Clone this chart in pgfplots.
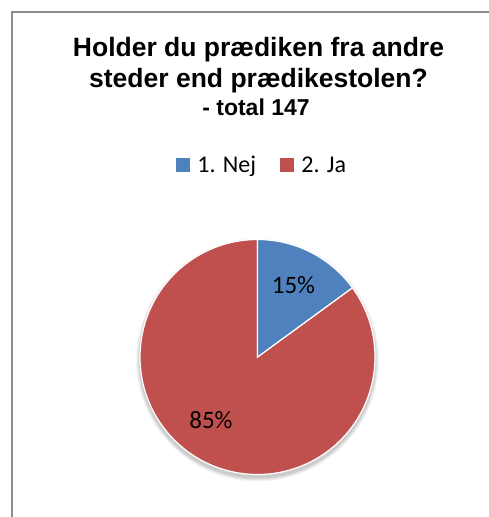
\documentclass[border=0pt]{standalone}
\usepackage{fontspec}
\setmainfont{Carlito}
\newfontfamily\titlefont{Liberation Sans}
\usepackage{pgfplots}
\pgfplotsset{compat=1.18}
\definecolor{nejblue}{HTML}{4F81BD}
\definecolor{jared}{HTML}{C0504D}
\definecolor{framegray}{HTML}{8C8C8C}

% answers: 1. Nej / 2. Ja, total 147
\def\nej{22}
\def\ja{125}
\pgfmathsetmacro{\angnej}{360*\nej/(\nej+\ja)}
\pgfmathsetmacro{\endnej}{90-\angnej}

\begin{document}
\begin{tikzpicture}
\begin{axis}[
    width=489bp, height=517bp,
    scale only axis,
    hide axis,
    xmin=0, xmax=489,
    ymin=0, ymax=517,
    clip=false,
    legend columns=2,
    legend style={
        draw=none, fill=none,
        at={(axis cs:262,352)}, anchor=center,
        font=\fontsize{24bp}{28bp}\selectfont,
        /tikz/every odd column/.append style={column sep=6bp},
        /tikz/every even column/.append style={column sep=22bp},
        inner sep=0pt,
    },
    legend cell align=left,
]
\coordinate (bl) at (axis cs:0,0);
\coordinate (tr) at (axis cs:489,517);

% frame of the chart area
\draw[framegray, line width=1.5bp] (axis cs:12,0) -- (axis cs:12,505) -- (axis cs:489,505);

% title
\node[anchor=base, font=\titlefont\bfseries\fontsize{26.5bp}{30bp}\selectfont]
    at (axis cs:258.5,460.3) {Holder du prædiken fra andre};
\node[anchor=base, font=\titlefont\bfseries\fontsize{26.5bp}{30bp}\selectfont]
    at (axis cs:258.5,429.7) {steder end prædikestolen?};
\node[anchor=base, font=\titlefont\bfseries\fontsize{23bp}{27bp}\selectfont]
    at (axis cs:256,401.5) {- total 147};

% soft shadow
\fill[black, opacity=0.04] (axis cs:257.5,157) circle[radius=121.5bp];
\fill[black, opacity=0.05] (axis cs:257.5,157) circle[radius=120.5bp];
\fill[black, opacity=0.06] (axis cs:257.5,157) circle[radius=119.5bp];
\fill[black, opacity=0.07] (axis cs:257.5,157) circle[radius=118.5bp];

% slices
\fill[jared, draw=white, line width=1.2bp]
    (axis cs:257.5,160) -- ++(\endnej:117.5bp)
    arc[start angle=\endnej, end angle=-270, radius=117.5bp] -- cycle;
\fill[nejblue, draw=white, line width=1.2bp]
    (axis cs:257.5,160) -- ++(90:117.5bp)
    arc[start angle=90, end angle=\endnej, radius=117.5bp] -- cycle;

% percentages
\node[anchor=base, font=\fontsize{25bp}{29bp}\selectfont] at (axis cs:293.5,223.7) {15\%};
\node[anchor=base, font=\fontsize{25bp}{29bp}\selectfont] at (axis cs:211,88.7) {85\%};

\addlegendimage{legend image code/.code={\fill[nejblue] (0bp,-6.5bp) rectangle (13bp,6.5bp);}}
\addlegendentry{1. Nej}
\addlegendimage{legend image code/.code={\fill[jared] (0bp,-6.5bp) rectangle (13bp,6.5bp);}}
\addlegendentry{2. Ja}
\end{axis}
\pgfresetboundingbox
\useasboundingbox (bl) rectangle (tr);
\end{tikzpicture}
\end{document}
